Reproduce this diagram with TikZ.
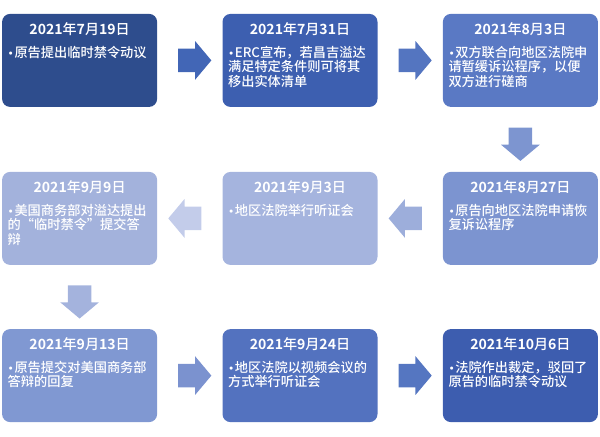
\documentclass[tikz,border=0pt]{standalone}
\usepackage{fontspec}
\setmainfont{Noto Sans CJK SC}[UprightFont=* Medium, BoldFont=* Bold]
\newfontfamily\bulfont{DejaVu Sans}
\XeTeXlinebreaklocale "zh"
\XeTeXlinebreakskip=0pt plus 1pt
\usetikzlibrary{positioning, shapes.arrows, calc}

% box colours (dark -> light -> dark)
\definecolor{boxA}{HTML}{2E4D8D}
\definecolor{boxB}{HTML}{3D5FB0}
\definecolor{boxC}{HTML}{5A79C4}
\definecolor{boxD}{HTML}{7C94D0}
\definecolor{boxE}{HTML}{A5B4DE}
\definecolor{boxF}{HTML}{A3B2DC}
\definecolor{boxG}{HTML}{8098D2}
\definecolor{boxH}{HTML}{5372BF}
\definecolor{boxI}{HTML}{3D5DAF}
% arrow colours
\definecolor{arrA}{HTML}{4266B6}
\definecolor{arrB}{HTML}{5475C0}
\definecolor{arrC}{HTML}{7D95D0}
\definecolor{arrD}{HTML}{9DAEDB}
\definecolor{arrE}{HTML}{C3CCEA}
\definecolor{arrF}{HTML}{A4B3DD}
\definecolor{arrG}{HTML}{7B92CF}
\definecolor{arrH}{HTML}{5576C1}

\newcommand{\riqi}[3]{\textbf{#1}年\textbf{#2}月\textbf{#3}日}
\newcommand{\bul}{\hangindent=0.17cm\hangafter=1\makebox[0.17cm][l]{\bulfont\fontsize{7.5}{8}\selectfont •}}

\tikzset{
    stagebox/.style={rounded corners=0.2cm, minimum width=3.875cm, minimum height=2.325cm, inner sep=0pt},
    datetext/.style={text=white, font=\fontsize{10}{12}\selectfont, inner sep=0pt},
    bodytext/.style={text=white, font=\fontsize{9.4}{10.3}\selectfont, inner sep=0pt, text width=3.7cm, align=left, anchor=north west},
    blockarrow/.style={single arrow, draw=none, inner xsep=0pt, inner ysep=0.2875cm, minimum height=0.83cm,
        single arrow head extend=0.19cm, single arrow tip angle=100}
}

\begin{document}
\begin{tikzpicture}

    \useasboundingbox (0, 0) rectangle (15, -10.9);

    % -------------------------------------------------------------
    % POSITIONS OF THE NINE STAGES
    % -------------------------------------------------------------
    \def\colA{1.99}
    \def\colB{7.50}
    \def\colC{13.01}
    \def\rowA{-1.51}
    \def\rowB{-5.46}
    \def\rowC{-9.39}

    % -------------------------------------------------------------
    % ROW 1
    % -------------------------------------------------------------
    \node[stagebox, fill=boxA] (s1) at (\colA, \rowA) {};
    \node[datetext, below=0.22cm of s1.north] (t1) {\riqi{2021}{7}{19}};
    \node[bodytext, below right=0.8cm and 0.14cm of s1.north west] (b1) {\bul 原告提出临时禁令动议};

    \node[stagebox, fill=boxB] (s2) at (\colB, \rowA) {};
    \node[datetext, below=0.22cm of s2.north] (t2) {\riqi{2021}{7}{31}};
    \node[bodytext, below right=0.8cm and 0.14cm of s2.north west] (b2) {\bul ERC宣布，若昌吉溢达\\满足特定条件则可将其\\移出实体清单};

    \node[stagebox, fill=boxC] (s3) at (\colC, \rowA) {};
    \node[datetext, below=0.22cm of s3.north] (t3) {\riqi{2021}{8}{3}};
    \node[bodytext, below right=0.8cm and 0.14cm of s3.north west] (b3) {\bul 双方联合向地区法院申\\请暂缓诉讼程序，以便\\双方进行磋商};

    % -------------------------------------------------------------
    % ROW 2 (right to left)
    % -------------------------------------------------------------
    \node[stagebox, fill=boxD] (s4) at (\colC, \rowB) {};
    \node[datetext, below=0.22cm of s4.north] (t4) {\riqi{2021}{8}{27}};
    \node[bodytext, below right=0.8cm and 0.14cm of s4.north west] (b4) {\bul 原告向地区法院申请恢\\复诉讼程序};

    \node[stagebox, fill=boxE] (s5) at (\colB, \rowB) {};
    \node[datetext, below=0.22cm of s5.north] (t5) {\riqi{2021}{9}{3}};
    \node[bodytext, below right=0.8cm and 0.14cm of s5.north west] (b5) {\bul 地区法院举行听证会};

    \node[stagebox, fill=boxF] (s6) at (\colA, \rowB) {};
    \node[datetext, below=0.22cm of s6.north] (t6) {\riqi{2021}{9}{9}};
    \node[bodytext, below right=0.8cm and 0.14cm of s6.north west] (b6) {\bul 美国商务部对溢达提出\\的“临时禁令”提交答\\辩};

    % -------------------------------------------------------------
    % ROW 3
    % -------------------------------------------------------------
    \node[stagebox, fill=boxG] (s7) at (\colA, \rowC) {};
    \node[datetext, below=0.22cm of s7.north] (t7) {\riqi{2021}{9}{13}};
    \node[bodytext, below right=0.8cm and 0.14cm of s7.north west] (b7) {\bul 原告提交对美国商务部\\答辩的回复};

    \node[stagebox, fill=boxH] (s8) at (\colB, \rowC) {};
    \node[datetext, below=0.22cm of s8.north] (t8) {\riqi{2021}{9}{24}};
    \node[bodytext, below right=0.8cm and 0.14cm of s8.north west] (b8) {\bul 地区法院以视频会议的\\方式举行听证会};

    \node[stagebox, fill=boxI] (s9) at (\colC, \rowC) {};
    \node[datetext, below=0.22cm of s9.north] (t9) {\riqi{2021}{10}{6}};
    \node[bodytext, below right=0.8cm and 0.14cm of s9.north west] (b9) {\bul 法院作出裁定，驳回了\\原告的临时禁令动议};

    % -------------------------------------------------------------
    % BLOCK ARROWS BETWEEN THE STAGES
    % -------------------------------------------------------------
    \node[blockarrow, fill=arrA] (a12) at ($(s1.east)!0.5!(s2.west)$) {};
    \node[blockarrow, fill=arrB] (a23) at ($(s2.east)!0.5!(s3.west)$) {};
    \node[blockarrow, fill=arrC, rotate=-90] (a34) at ($(s3.south)!0.5!(s4.north)$) {};
    \node[blockarrow, fill=arrD, rotate=180] (a45) at ($(s4.west)!0.5!(s5.east)$) {};
    \node[blockarrow, fill=arrE, rotate=180] (a56) at ($(s5.west)!0.5!(s6.east)$) {};
    \node[blockarrow, fill=arrF, rotate=-90] (a67) at ($(s6.south)!0.5!(s7.north)$) {};
    \node[blockarrow, fill=arrG] (a78) at ($(s7.east)!0.5!(s8.west)$) {};
    \node[blockarrow, fill=arrH] (a89) at ($(s8.east)!0.5!(s9.west)$) {};

\end{tikzpicture}
\end{document}
